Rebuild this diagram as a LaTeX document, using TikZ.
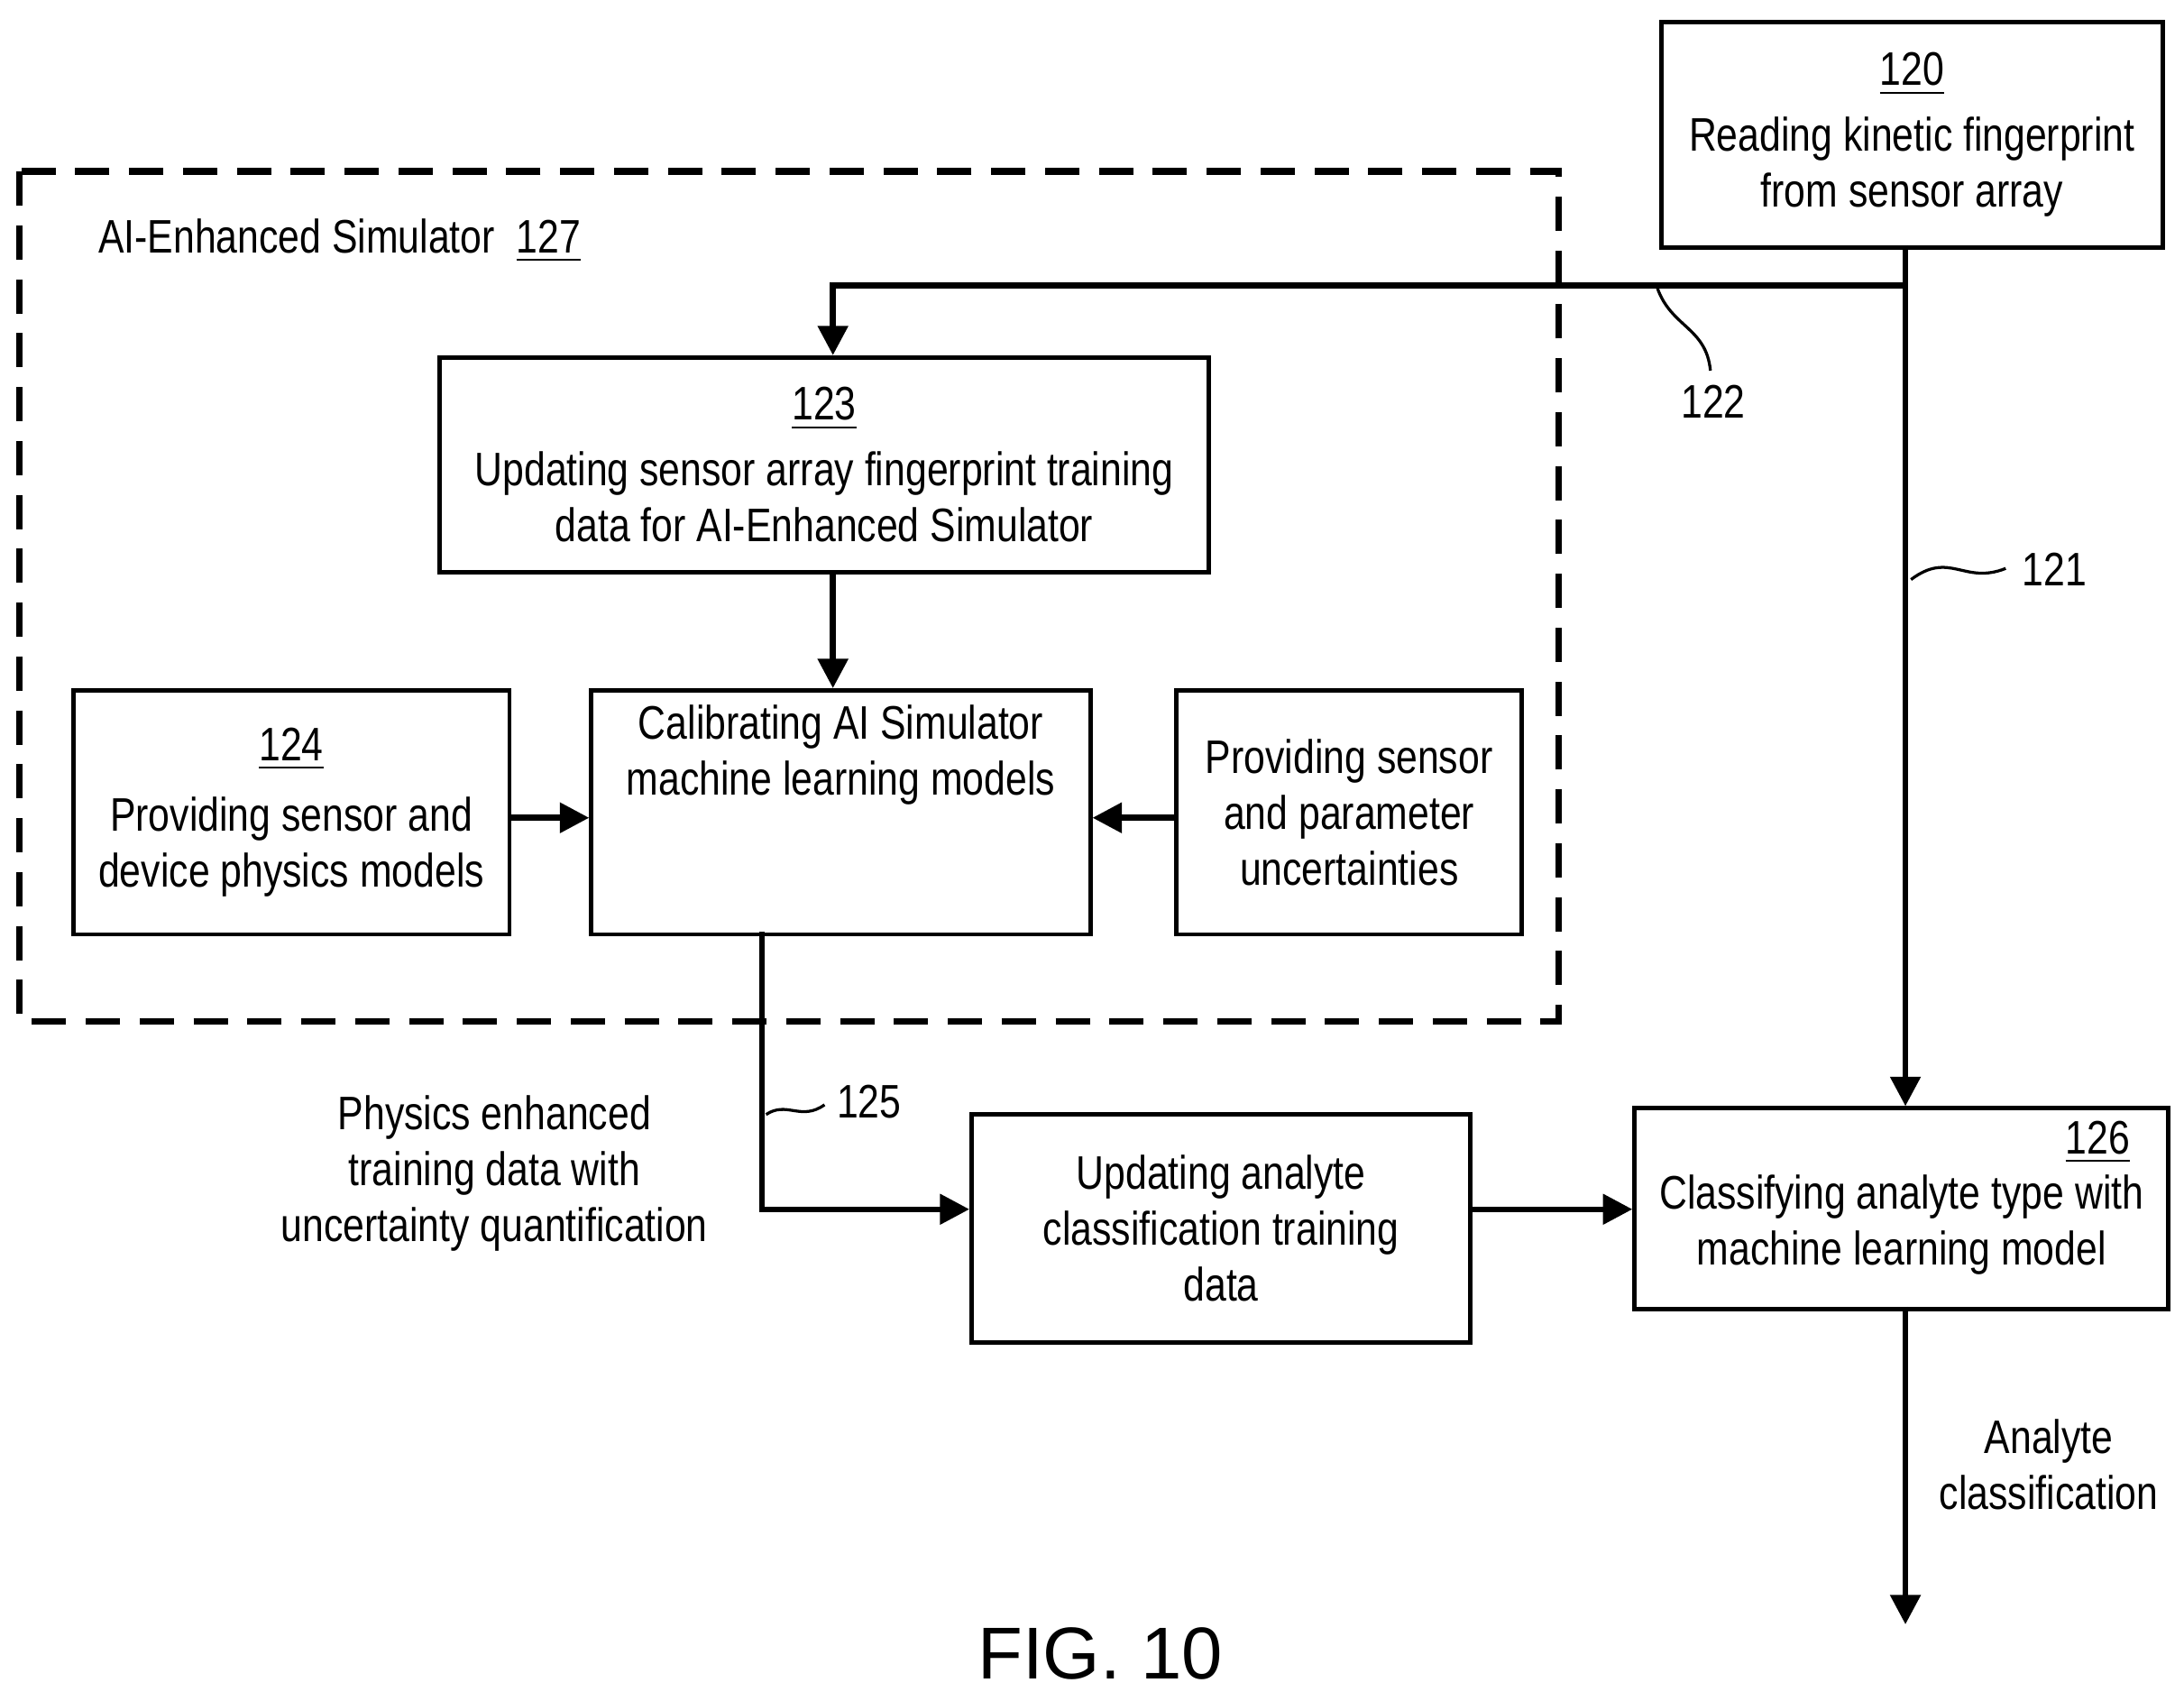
\documentclass[tikz,border=0pt]{standalone}
\usepackage{fontspec}
\setmainfont{Liberation Sans}[FakeStretch=0.82]
\newfontfamily\figfont{Liberation Sans}
\usetikzlibrary{arrows.meta}
\begin{document}
\begin{tikzpicture}[x=0.01cm,y=-0.01cm,
  every node/.style={font=\fontsize{9.6}{11.4}\selectfont, inner sep=0pt},
  box/.style={draw, line width=0.9pt, anchor=north west, align=center},
  con/.style={line width=1.2pt},
  arr/.style={con, -{Triangle[length=6pt,width=6pt]}},
  lead/.style={line width=0.6pt}]
\useasboundingbox (0,0) rectangle (1568,1214);
% dashed simulator frame
\draw[line width=1.3pt, dash pattern=on 7pt off 4pt] (14,123) rectangle (1119,733);
\node[anchor=west] (simlbl) at (70,173) {AI-Enhanced Simulator\ \ \underline{127}};
% boxes
\node[box, minimum width=3.60cm, minimum height=1.62cm] (b120) at (1191,14) {\underline{120}\\[2pt]Reading kinetic fingerprint\\from sensor array};
\node[box, minimum width=5.52cm, minimum height=1.54cm] (b123) at (314,255) {\underline{123}\\[2pt]Updating sensor array fingerprint training\\data for AI-Enhanced Simulator};
\node[box, minimum width=3.13cm, minimum height=1.75cm] (b124) at (51,494) {\underline{124}\\[3pt]Providing sensor and\\device physics models};
\node[box, minimum width=3.58cm, minimum height=1.75cm] (bcal) at (423,494) {Calibrating AI Simulator\\machine learning models\\[14pt]};
\node[box, minimum width=2.48cm, minimum height=1.75cm] (bunc) at (843,494) {Providing sensor\\and parameter\\uncertainties};
\node[box, minimum width=3.58cm, minimum height=1.64cm] (bupd) at (696,798) {Updating analyte\\classification training\\data};
\node[box, minimum width=3.83cm, minimum height=1.44cm] (b126) at (1172,794) {\\[2pt]Classifying analyte type with\\machine learning model};
\node (n126) at (1506,820) {\underline{126}};
% free coordinates
\coordinate (s120) at (1368,176);
\coordinate (j122) at (1368,205);
\coordinate (c122) at (598,205);
\coordinate (t123) at (598,255);
\coordinate (e126) at (1368,794);
\coordinate (o126) at (1368,938);
\coordinate (end) at (1368,1166);
% connectors
\draw[arr] (s120) -- (e126);
\draw[arr] (j122) -- (c122) -- (t123);
\draw[arr] (b123.south -| t123) -- (bcal.north -| t123);
\draw[arr] (b124.east |- 0,587) -- (bcal.west |- 0,587);
\draw[arr] (bunc.west |- 0,587) -- (bcal.east |- 0,587);
\draw[arr] (547,669) -- (547,868) -- (bupd.west |- 0,868);
\draw[arr] (bupd.east |- 0,868) -- (b126.west |- 0,868);
\draw[arr] (o126) -- (end);
% labels
\node (l121) at (1475,409) {121};
\draw[lead] (1372,416) .. controls (1400,395) and (1410,420) .. (1440,408);
\node (l122) at (1230,288) {122};
\draw[lead] (1190,207) .. controls (1200,235) and (1225,235) .. (1228,266);
\node (l125) at (624,791) {125};
\draw[lead] (550,800) .. controls (565,790) and (575,805) .. (592,793);
\node[align=center] (phys) at (355,842) {Physics enhanced\\training data with\\uncertainty quantification};
\node[align=center] (acls) at (1471,1051) {Analyte\\classification};
\node[font=\figfont\fontsize{15}{18}\selectfont] (fig) at (790,1187) {FIG. 10};
\end{tikzpicture}
\end{document}
